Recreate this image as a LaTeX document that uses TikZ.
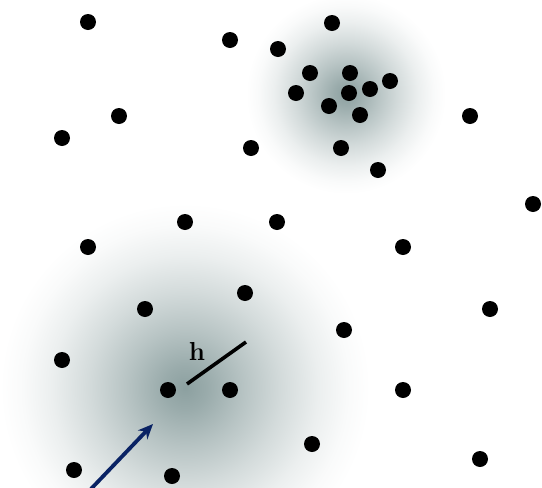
\documentclass[tikz,border=0pt]{standalone}
\usepackage{fontspec}
\usetikzlibrary{arrows.meta}
\definecolor{glowc}{RGB}{140,160,160}
\definecolor{navy}{RGB}{10,35,100}
\pgfdeclareradialshading{glow}{\pgfpoint{0bp}{0bp}}{color(0bp)=(glowc); color(3bp)=(glowc!88!white); color(8bp)=(glowc!62!white); color(13bp)=(glowc!38!white); color(18bp)=(glowc!17!white); color(22bp)=(glowc!5!white); color(25bp)=(white); color(50bp)=(white)}
\begin{document}
\begin{tikzpicture}[x=1pt,y=-1pt,
  dot/.style={circle,fill=black,inner sep=0pt,minimum size=16pt},
  hline/.style={line width=3.6pt,black},
  arr/.style={navy,line width=3.8pt,-{Stealth[length=15pt,width=13pt]}}]
\useasboundingbox (0,0) rectangle (542,488);
\begin{scope}
\clip (0,0) rectangle (542,488);
\shade[shading=glow] (185,388) circle (185pt);
\shade[shading=glow] (346,94) circle (100pt);
\end{scope}
\node[dot] (d1) at (88,22) {};
\node[dot] (d2) at (230,40) {};
\node[dot] (d3) at (278,49) {};
\node[dot] (d4) at (332,23) {};
\node[dot] (d5) at (310,73) {};
\node[dot] (d6) at (350,73) {};
\node[dot] (d7) at (390,81) {};
\node[dot] (d8) at (296,93) {};
\node[dot] (d9) at (349,93) {};
\node[dot] (d10) at (370,89) {};
\node[dot] (d11) at (329,106) {};
\node[dot] (d12) at (360,115) {};
\node[dot] (d13) at (119,116) {};
\node[dot] (d14) at (62,138) {};
\node[dot] (d15) at (251,148) {};
\node[dot] (d16) at (341,148) {};
\node[dot] (d17) at (378,170) {};
\node[dot] (d18) at (470,116) {};
\node[dot] (d19) at (533,204) {};
\node[dot] (d20) at (185,222) {};
\node[dot] (d21) at (277,222) {};
\node[dot] (d22) at (88,247) {};
\node[dot] (d23) at (403,247) {};
\node[dot] (d24) at (245,293) {};
\node[dot] (d25) at (145,309) {};
\node[dot] (d26) at (490,309) {};
\node[dot] (d27) at (344,330) {};
\node[dot] (d28) at (62,360) {};
\node[dot] (d29) at (168,390) {};
\node[dot] (d30) at (230,390) {};
\node[dot] (d31) at (403,390) {};
\node[dot] (d32) at (312,444) {};
\node[dot] (d33) at (480,459) {};
\node[dot] (d34) at (74,470) {};
\node[dot] (d35) at (172,476) {};
\coordinate (h0) at (187,384);
\coordinate (h1) at (246,342);
\draw[hline] (h0) -- (h1);
\node[font=\fontsize{26}{26}\selectfont\bfseries] (hl) at (197,351) {h};
\coordinate (a0) at (90,490);
\coordinate (a1) at (153,424);
\draw[arr] (a0) -- (a1);
\end{tikzpicture}
\end{document}
